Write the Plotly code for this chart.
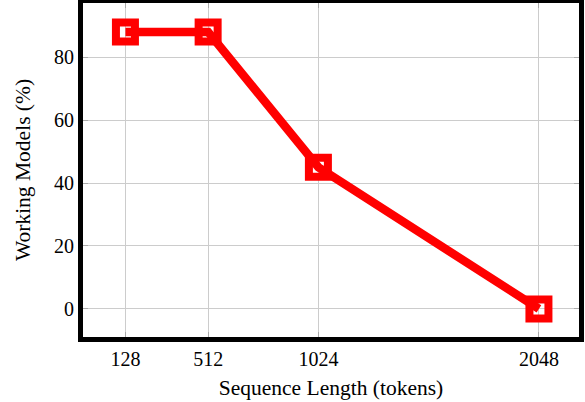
import plotly.graph_objects as go

seq_len = [128, 512, 1024, 2048]
working_pct = [88, 88, 45, 0]
x_ticks = [128, 512, 1024, 2048]
y_ticks = [0, 20, 40, 60, 80]

font = "Liberation Serif, Times New Roman, serif"

fig = go.Figure(go.Scatter(
    x=seq_len, y=working_pct, mode="lines+markers",
    line=dict(color="#ff0000", width=8.5),
    marker=dict(symbol="square-open", size=19, color="#ff0000",
                line=dict(color="#ff0000", width=8)),
))

axis_common = dict(
    showline=True, linecolor="black", linewidth=5, mirror="allticks",
    showgrid=True, gridcolor="#cccccc", gridwidth=1,
    ticks="inside", ticklen=5, tickcolor="#aaaaaa", tickwidth=1,
    zeroline=False, automargin=False,
    tickfont=dict(family=font, size=20, color="black"),
)

fig.update_xaxes(**axis_common, range=[-69, 2234], tickvals=x_ticks,
                 ticktext=[str(v) for v in x_ticks],
                 title=dict(text="Sequence Length (tokens)", font=dict(family=font, size=21.5, color="black"), standoff=12))
fig.update_yaxes(**axis_common, range=[-8.93, 97.2], tickvals=y_ticks,
                 title=dict(text="Working Models (%)", font=dict(family=font, size=21.5, color="black"), standoff=19))

fig.update_layout(
    width=585, height=402,
    margin=dict(l=82.5, r=5.5, t=2.5, b=64.5),
    paper_bgcolor="white", plot_bgcolor="white",
    showlegend=False,
)

fig.write_html("out.html", config={"displayModeBar": False},
               post_script="document.body.style.margin='0';document.body.style.padding='0';")
